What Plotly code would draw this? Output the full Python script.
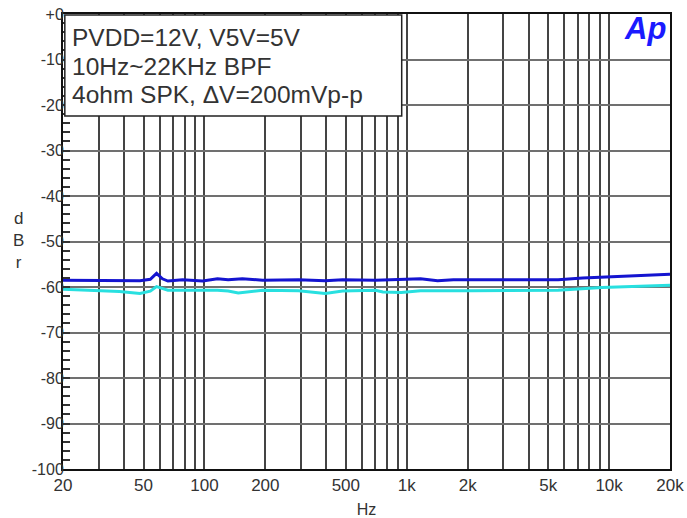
import plotly.graph_objects as go

# ---- data ----
freq_blue = [20, 30, 38, 48, 54, 58, 62, 66, 78, 98, 116, 131, 154, 194, 292, 395, 482, 700,
             1170, 1420, 1700, 2100, 4100, 5600, 7400, 12100, 17700, 20000]
dbr_blue = [-58.5, -58.5, -58.6, -58.6, -58.3, -57.0, -58.2, -58.7, -58.4, -58.7, -58.2, -58.4, -58.2,
            -58.5, -58.4, -58.6, -58.4, -58.5, -58.2, -58.6, -58.4, -58.4, -58.3, -58.4, -58.0,
            -57.6, -57.2, -57.2]

freq_cyan = [20, 30, 38, 48, 54, 58, 62, 66, 78, 98, 116, 131, 147, 194, 292, 395, 482, 700, 762,
             940, 1170, 2100, 4300, 5600, 9200, 14000, 20000]
dbr_cyan = [-60.5, -60.8, -61.0, -61.4, -60.9, -59.9, -60.4, -60.7, -60.7, -60.7, -60.7, -60.9, -61.3,
            -60.7, -60.8, -61.4, -60.9, -60.7, -61.1, -61.2, -60.8, -60.8, -60.7, -60.7, -60.1,
            -59.8, -59.6]

x_tickvals = [20, 50, 100, 200, 500, 1000, 2000, 5000, 10000, 20000]
x_ticktext = ["20", "50", "100", "200", "500", "1k", "2k", "5k", "10k", "20k"]
x_minorvals = [30, 40, 60, 70, 80, 90, 300, 400, 600, 700, 800, 900,
               3000, 4000, 6000, 7000, 8000, 9000]
y_tickvals = [0, -10, -20, -30, -40, -50, -60, -70, -80, -90, -100]
y_ticktext = ["+0", "-10", "-20", "-30", "-40", "-50", "-60", "-70", "-80", "-90", "-100"]
note_lines = ["PVDD=12V, V5V=5V", "10Hz~22KHz BPF", "4ohm SPK, \u0394V=200mVp-p"]

FONT = "Liberation Sans, Arial, sans-serif"
GRID = "#444444"

fig = go.Figure()
fig.add_trace(go.Scatter(x=freq_blue, y=dbr_blue, mode="lines",
                         line=dict(color="#1414d0", width=3), showlegend=False))
fig.add_trace(go.Scatter(x=freq_cyan, y=dbr_cyan, mode="lines",
                         line=dict(color="#28e0e0", width=3), showlegend=False))

fig.update_layout(
    width=687, height=518,
    margin=dict(l=63, r=17, t=14, b=49),
    paper_bgcolor="white", plot_bgcolor="white",
    font=dict(family=FONT, size=16, color="#333333"),
    xaxis=dict(
        type="log", range=[1.30103, 4.30103], automargin=False,
        tickvals=x_tickvals, ticktext=x_ticktext, tickfont=dict(size=17),
        showgrid=True, gridcolor=GRID, gridwidth=1.5,
        ticks="", showline=True, linecolor="#111111", linewidth=2, mirror=True,
        minor=dict(tickvals=x_minorvals, showgrid=True, gridcolor=GRID, gridwidth=1.5, ticks=""),
        title=dict(text="Hz", standoff=9, font=dict(size=16)),
        zeroline=False,
    ),
    yaxis=dict(
        range=[-100, 0], automargin=False,
        tickvals=y_tickvals, ticktext=y_ticktext, tickfont=dict(size=16),
        showgrid=True, gridcolor="#707070", gridwidth=2,
        ticks="inside", ticklen=0,
        showline=True, linecolor="#111111", linewidth=2, mirror=True,
        minor=dict(dtick=2, ticks="inside", ticklen=7, tickcolor="#333333", tickwidth=1.5, showgrid=False),
        ticklabelstandoff=-6,
        zeroline=False,
    ),
)

# annotation box
fig.add_shape(type="rect", xref="paper", yref="paper",
              x0=0.003, x1=0.558, y0=0.776, y1=0.998,
              fillcolor="white", line=dict(color="#222222", width=1.5), layer="above")
for i, t in enumerate(note_lines):
    fig.add_annotation(xref="paper", yref="paper", x=0.0115, y=0.949 - i * 0.0635,
                       text=t, showarrow=False, xanchor="left", yanchor="middle",
                       font=dict(family=FONT, size=24.5, color="#333333"))

# Ap logo
fig.add_annotation(xref="paper", yref="paper", x=0.997, y=1.012, text="<b><i>Ap</i></b>",
                   showarrow=False, xanchor="right", yanchor="top",
                   font=dict(family=FONT, size=31, color="#1a1aff"))

# y-axis title (stacked letters)
fig.add_annotation(xref="paper", yref="paper", x=-0.074, y=0.503, text="d<br>B<br>r",
                   showarrow=False, xanchor="center", yanchor="middle",
                   font=dict(family=FONT, size=17, color="#333333"))

fig.write_html("out.html", config={"displayModeBar": False},
               post_script="document.body.style.margin='0';")
